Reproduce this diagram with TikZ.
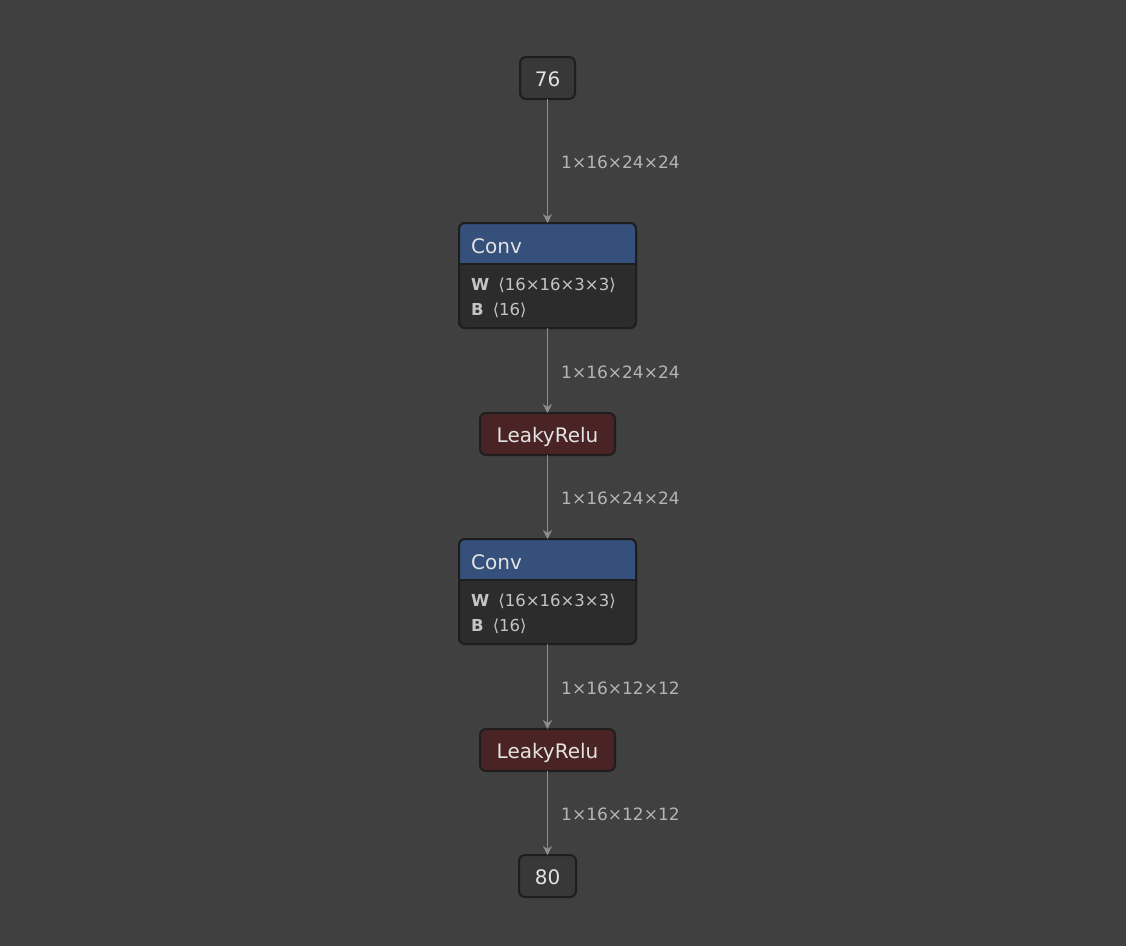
\documentclass[tikz,border=0pt]{standalone}
\usepackage{fontspec}
\setmainfont{DejaVu Sans}
\usetikzlibrary{arrows.meta}
\definecolor{bg}{HTML}{404040}
\definecolor{nodefill}{HTML}{383838}
\definecolor{nodeborder}{HTML}{1E1E1E}
\definecolor{convhead}{HTML}{35507A}
\definecolor{convbody}{HTML}{2C2C2C}
\definecolor{relufill}{HTML}{4A2424}
\definecolor{txt}{HTML}{E2E2E2}
\definecolor{attr}{HTML}{C4C4C4}
\definecolor{lbl}{HTML}{B4B4B4}
\definecolor{edgec}{HTML}{8E8E8E}
\tikzset{
  base/.style={draw=nodeborder, line width=2pt, rounded corners=6pt, outer sep=0pt, inner sep=0pt,
    text height=17pt, text depth=0pt, text=txt, font=\fontsize{20}{24}\selectfont},
  valbox/.style={base, fill=nodefill, minimum width=55pt, minimum height=42pt},
  relubox/.style={base, fill=relufill, minimum width=135pt, minimum height=42pt},
  convbox/.style={base, fill=convbody, minimum width=177pt, minimum height=105pt},
  headtext/.style={anchor=west, inner sep=0pt, text=txt, font=\fontsize{20}{24}\selectfont},
  attrtext/.style={anchor=west, inner sep=0pt, text=attr, font=\fontsize{16.5}{19}\selectfont},
  shapelbl/.style={anchor=west, inner sep=0pt, text=lbl, font=\fontsize{17}{20}\selectfont},
  edge/.style={draw=edgec, line width=1.8pt, -{Stealth[length=9pt,width=9pt,inset=3pt]}},
}
\newcommand{\convnode}[3]{%
  \node[convbox] (#1) at (#2) {};
  \fill[convhead] (#1.west |- 0,#3) [rounded corners=6pt] -- (#1.north west) -- (#1.north east) [sharp corners] -- (#1.east |- 0,#3) -- cycle;
  \draw[nodeborder, line width=2pt] (#1.west |- 0,#3) -- (#1.east |- 0,#3);
  \draw[nodeborder, line width=2pt, rounded corners=6pt] (#1.north west) rectangle (#1.south east);
}
\begin{document}
\begin{tikzpicture}[x=1pt, y=-1pt]
  \fill[bg] (0,0) rectangle (1126,946);
  \useasboundingbox (0,0) rectangle (1126,946);

  % input value
  \node[valbox] (in) at (547.5,78) {76};

  % first convolution
  \convnode{convA}{547.5,275.5}{264}
  \node[headtext] (convAname) at (471,246) {Conv};
  \node[attrtext] (convAw) at (471,285) {{\bfseries W}\hspace{9pt}⟨16×16×3×3⟩};
  \node[attrtext] (convAb) at (471,310) {{\bfseries B}\hspace{9pt}⟨16⟩};

  \node[relubox] (reluA) at (547.5,434) {LeakyRelu};

  % second convolution
  \convnode{convB}{547.5,591.5}{580}
  \node[headtext] (convBname) at (471,562) {Conv};
  \node[attrtext] (convBw) at (471,601) {{\bfseries W}\hspace{9pt}⟨16×16×3×3⟩};
  \node[attrtext] (convBb) at (471,626) {{\bfseries B}\hspace{9pt}⟨16⟩};

  \node[relubox] (reluB) at (547.5,750) {LeakyRelu};

  % output value
  \node[valbox, minimum width=57pt] (out) at (547.5,876) {80};

  % connectors
  \draw[edge] (in.south) -- (convA.north);
  \draw[edge] (convA.south) -- (reluA.north);
  \draw[edge] (reluA.south) -- (convB.north);
  \draw[edge] (convB.south) -- (reluB.north);
  \draw[edge] (reluB.south) -- (out.north);

  % tensor shapes
  \node[shapelbl] (sA) at (561,162) {1×16×24×24};
  \node[shapelbl] (sB) at (561,372) {1×16×24×24};
  \node[shapelbl] (sC) at (561,498) {1×16×24×24};
  \node[shapelbl] (sD) at (561,688) {1×16×12×12};
  \node[shapelbl] (sE) at (561,814) {1×16×12×12};
\end{tikzpicture}
\end{document}
